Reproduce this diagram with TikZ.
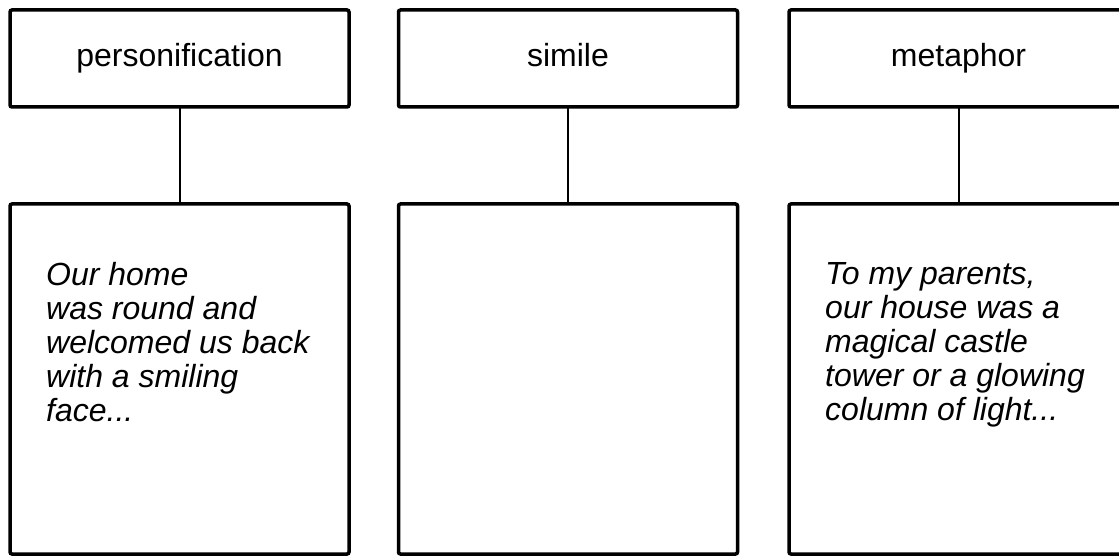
\documentclass[tikz,border=0pt]{standalone}
\usepackage{fontspec}
\setmainfont{Liberation Sans}
\begin{document}
\begin{tikzpicture}[x=1pt,y=-1pt,
  box/.style={draw, line width=3.5pt, rounded corners=2pt, minimum width=339pt, inner sep=0pt, outer sep=0pt},
  head/.style={box, minimum height=97pt, text height=24pt, text depth=7pt, font=\fontsize{32}{34}\selectfont},
  body/.style={box, minimum height=350pt},
  bodytext/.style={anchor=north west, align=left, inner sep=0pt, font=\fontsize{32}{34}\selectfont\itshape},
  link/.style={line width=2pt}]
\useasboundingbox (0,0) rectangle (1119,556);
\clip (0,0) rectangle (1119,556);
\node[head] (t1) at (179.5,58.5) {personification};
\node[head] (t2) at (568,58.5) {simile};
\node[head] (t3) at (958.5,58.5) {metaphor};
\node[body] (b1) at (179.5,379) {};
\node[body] (b2) at (568,379) {};
\node[body] (b3) at (958.5,379) {};
\draw[link] (t1.south) -- (b1.north);
\draw[link] (t2.south) -- (b2.north);
\draw[link] (t3.south) -- (b3.north);
\node[bodytext] (x1) at (46,262) {Our home\\was round and\\welcomed us back\\with a smiling\\face...};
\node[bodytext] (x3) at (825,262) {To my parents,\\our house was a\\magical castle\\tower or a glowing\\column of light...};
\end{tikzpicture}
\end{document}
